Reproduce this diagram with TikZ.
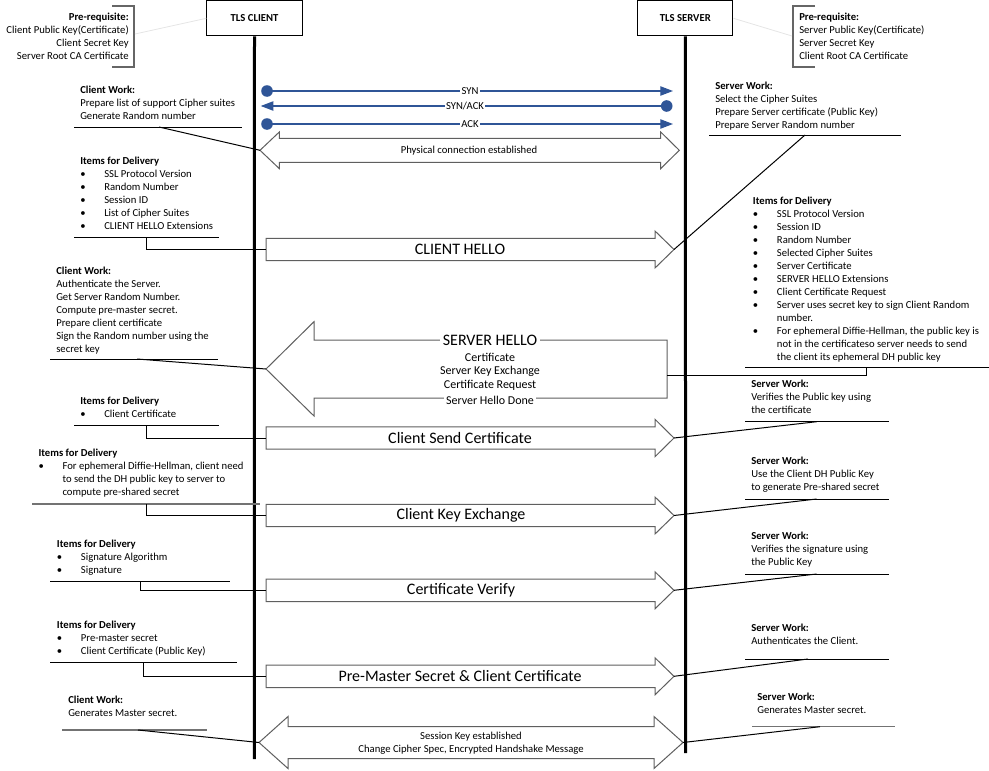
\documentclass[tikz,border=0pt]{standalone}
\usepackage{fontspec}
\setmainfont{Carlito}
\usetikzlibrary{arrows.meta}
\definecolor{synblue}{RGB}{47,85,151}
\definecolor{arrgray}{RGB}{95,95,95}
\newcommand\bul{\makebox[18pt][l]{\textbullet}}
\newcommand\ind{\hspace*{18pt}}
% right-pointing block arrow: #1 name, #2 left x, #3 head base x, #4 tip x, #5 centre y, #6 body half, #7 head half
\newcommand\rightblock[7]{%
  \draw[block] (#2,#5-#6) -- (#3,#5-#6) -- (#3,#5-#7) -- (#4,#5) -- (#3,#5+#7) -- (#3,#5+#6) -- (#2,#5+#6) -- cycle;
  \coordinate (#1-tip) at (#4,#5);
  \coordinate (#1-in) at (#2,#5);}
\begin{document}
\begin{tikzpicture}[x=0.75pt,y=-0.75pt,
  note/.style={anchor=north west, align=left, inner sep=0pt, font=\fontsize{8}{9.75}\selectfont, execute at begin node={\rule{0pt}{7pt}}},
  noteR/.style={anchor=north east, align=right, inner sep=0pt, font=\fontsize{8}{9.75}\selectfont, execute at begin node={\rule{0pt}{7pt}}},
  small/.style={inner sep=1pt, font=\fontsize{8}{9.75}\selectfont},
  mid/.style={inner sep=1.5pt, font=\fontsize{9}{10.5}\selectfont},
  biglabel/.style={inner sep=2pt, font=\fontsize{12}{14}\selectfont},
  actor/.style={draw=black, line width=0.75pt, minimum width=71.5pt, minimum height=26.25pt, inner sep=0pt, font=\bfseries\fontsize{8}{9.75}\selectfont},
  lifeline/.style={line width=2.25pt},
  block/.style={draw=arrgray, fill=white, line width=0.75pt, line join=miter},
  uline/.style={draw=black, line width=0.75pt},
  gline/.style={draw=black!55, line width=1.1pt},
  conn/.style={draw=black, line width=0.75pt},
  faint/.style={draw=black!10, line width=0.6pt},
  brack/.style={draw=black!60, line width=1.1pt},
  syn/.style={draw=synblue, line width=0.9pt, -{Triangle[length=9.5pt,width=7pt]}, color=synblue},
]
\useasboundingbox (0,0) rectangle (989,771);

% actors and lifelines
\node[actor] (client) at (254.5,18.3) {TLS CLIENT};
\node[actor] (server) at (685.3,18.3) {TLS SERVER};
\coordinate (clientEnd) at (254.3,759);
\coordinate (serverEnd) at (685.7,753);
\draw[lifeline] (client.south) -- (clientEnd);
\draw[lifeline] (server.south) -- (serverEnd);

% pre-requisites
\node[noteR] (preL) at (129,12.9) {\textbf{Pre-requisite:}\\Client Public Key(Certificate)\\Client Secret Key\\Server Root CA Certificate};
\coordinate (bl1) at (112,6); \coordinate (bl2) at (134,6);
\coordinate (bl3) at (134,67); \coordinate (bl4) at (112,67);
\draw[brack] (bl1) -- (bl2) -- (bl3) -- (bl4);
\coordinate (blc) at (135,34);
\draw[faint] (blc) -- (client.west);

\node[note] (preR) at (799,13.2) {\textbf{Pre-requisite:}\\Server Public Key(Certificate)\\Server Secret Key\\Client Root CA Certificate};
\coordinate (br1) at (815,6); \coordinate (br2) at (793,6);
\coordinate (br3) at (793,67); \coordinate (br4) at (815,67);
\draw[brack] (br1) -- (br2) -- (br3) -- (br4);
\coordinate (brc) at (792,36);
\draw[faint] (server.east) -- (brc);

% TCP handshake
\coordinate (synA) at (267,91);   \coordinate (synB) at (673,91);
\coordinate (saA) at (666.7,106); \coordinate (saB) at (260.7,106);
\coordinate (ackA) at (267,124);  \coordinate (ackB) at (673,124);
\draw[syn] (synA) -- (synB);
\draw[syn] (saA) -- (saB);
\draw[syn] (ackA) -- (ackB);
\fill[synblue] (synA) circle (5.8);
\fill[synblue] (saA) circle (5.8);
\fill[synblue] (ackA) circle (5.8);
\node[small, fill=white] (synL) at (470,91) {SYN};
\node[small, fill=white] (saL) at (465,106) {SYN/ACK};
\node[small, fill=white] (ackL) at (470,124) {ACK};

% physical connection double arrow
\draw[block] (260,150.3) -- (279.3,132) -- (279.3,138.3) -- (660.7,138.3) -- (660.7,132) -- (679.3,150.3)
  -- (660.7,168.6) -- (660.7,162.3) -- (279.3,162.3) -- (279.3,168.6) -- cycle;
\coordinate (phys-L) at (260,150.3);
\node[small] (physL) at (469,151) {Physical connection established};

% message arrows
\rightblock{ch}{266}{655}{674}{249.5}{11.2}{18.5}
\node[biglabel] (chL) at (460,249.5) {CLIENT HELLO};

\draw[block] (266,369) -- (314,321.7) -- (314,340) -- (667,340) -- (667,398) -- (314,398) -- (314,416) -- cycle;
\coordinate (sh-tip) at (266,369);
\coordinate (sh-in) at (667,375.5);
\node[biglabel, fill=white] (shL) at (490,340) {SERVER HELLO};
\node[mid] (sh1) at (490,357) {Certificate};
\node[mid] (sh2) at (490,371) {Server Key Exchange};
\node[mid] (sh3) at (490,385) {Certificate Request};
\node[mid, fill=white] (sh4) at (490,400) {Server Hello Done};

\rightblock{csc}{266}{655}{674}{438}{11.2}{18.7}
\node[biglabel] (cscL) at (460,438) {Client Send Certificate};
\rightblock{cke}{266}{655}{674}{515.5}{11.2}{18.5}
\node[biglabel] (ckeL) at (461,515.5) {Client Key Exchange};
\rightblock{cv}{266}{655}{674}{590.3}{11.2}{18.5}
\node[biglabel] (cvL) at (461,590.3) {Certificate Verify};
\rightblock{pm}{266}{655}{674}{676.3}{11.2}{18.5}
\node[biglabel] (pmL) at (460,676.3) {Pre-Master Secret \& Client Certificate};

% session key double arrow
\draw[block] (259,742.5) -- (288,716.5) -- (288,726.7) -- (654,726.7) -- (654,716.5) -- (683,742.5)
  -- (654,768.5) -- (654,758.5) -- (288,758.5) -- (288,768.5) -- cycle;
\coordinate (ses-L) at (259,742.5);
\coordinate (ses-R) at (683,742.5);
\node[small] (ses1) at (471,736.7) {Session Key established};
\node[small] (ses2) at (471,750) {Change Cipher Spec, Encrypted Handshake Message};

% ---- left notes ----
\node[note] (cw1) at (80,85.9) {\textbf{Client Work:}\\Prepare list of support Cipher suites\\Generate Random number};
\coordinate (cw1a) at (74,127); \coordinate (cw1b) at (242,127); \coordinate (cw1c) at (159,127);
\draw[uline] (cw1a) -- (cw1b);
\draw[conn] (cw1c) -- (phys-L);

\node[note] (it1) at (80,156.9) {\textbf{Items for Delivery}\\\bul SSL Protocol Version\\\bul Random Number\\\bul Session ID\\\bul List of Cipher Suites\\\bul CLIENT HELLO Extensions};
\coordinate (it1a) at (74,237); \coordinate (it1b) at (219,237); \coordinate (it1c) at (146.7,237);
\draw[uline] (it1a) -- (it1b);
\draw[conn] (it1c) |- (ch-in);

\node[note] (cw2) at (56,266.9) {\textbf{Client Work:}\\Authenticate the Server.\\Get Server Random Number.\\Compute pre-master secret.\\Prepare client certificate\\Sign the Random number using the\\secret key};
\coordinate (cw2a) at (50,359); \coordinate (cw2b) at (218,359); \coordinate (cw2c) at (137,359);
\draw[uline] (cw2a) -- (cw2b);
\draw[conn] (cw2c) -- (sh-tip);

\node[note] (it3) at (80,396.9) {\textbf{Items for Delivery}\\\bul Client Certificate};
\coordinate (it3a) at (74,425.7); \coordinate (it3b) at (219,425.7); \coordinate (it3c) at (146.7,425.7);
\draw[uline] (it3a) -- (it3b);
\draw[conn] (it3c) |- (csc-in);

\node[note] (it4) at (38.3,448.9) {\textbf{Items for Delivery}\\\bul For ephemeral Diffie-Hellman, client need\\\ind to send the DH public key to server to\\\ind compute pre-shared secret};
\coordinate (it4a) at (32,504); \coordinate (it4b) at (260,504); \coordinate (it4c) at (146.7,504);
\draw[gline] (it4a) -- (it4b);
\draw[conn] (it4c) |- (cke-in);

\node[note] (it5) at (56.7,539.9) {\textbf{Items for Delivery}\\\bul Signature Algorithm\\\bul Signature};
\coordinate (it5a) at (50,581.7); \coordinate (it5b) at (230,581.7); \coordinate (it5c) at (140.7,581.7);
\draw[uline] (it5a) -- (it5b);
\draw[conn] (it5c) |- (cv-in);

\node[note] (it6) at (56.7,620.9) {\textbf{Items for Delivery}\\\bul Pre-master secret\\\bul Client Certificate (Public Key)};
\coordinate (it6a) at (50,662); \coordinate (it6b) at (236.7,662); \coordinate (it6c) at (143.3,662);
\draw[uline] (it6a) -- (it6b);
\draw[conn] (it6c) |- (pm-in);

\node[note] (cw3) at (68,695.9) {\textbf{Client Work:}\\Generates Master secret.};
\coordinate (cw3a) at (62,730); \coordinate (cw3b) at (207,730); \coordinate (cw3c) at (138,730);
\draw[gline] (cw3a) -- (cw3b);
\draw[conn] (cw3c) -- (ses-L);

% ---- right notes ----
\node[note] (sw1) at (715,81.9) {\textbf{Server Work:}\\Select the Cipher Suites\\Prepare Server certificate (Public Key)\\Prepare Server Random number};
\coordinate (sw1a) at (709,135); \coordinate (sw1b) at (901,135); \coordinate (sw1c) at (805,135);
\draw[uline] (sw1a) -- (sw1b);
\draw[conn] (sw1c) -- (ch-tip);

\node[note] (it2) at (752.7,196.6) {\textbf{Items for Delivery}\\\bul SSL Protocol Version\\\bul Session ID\\\bul Random Number\\\bul Selected Cipher Suites\\\bul Server Certificate\\\bul SERVER HELLO Extensions\\\bul Client Certificate Request\\\bul Server uses secret key to sign Client Random\\\ind number.\\\bul For ephemeral Diffie-Hellman, the public key is\\\ind not in the certificateso server needs to send\\\ind the client its ephemeral DH public key};
\coordinate (it2a) at (745,367.3); \coordinate (it2b) at (989,367.3); \coordinate (it2c) at (866,367.3);
\draw[uline] (it2a) -- (it2b);
\draw[conn] (it2c) |- (sh-in);

\node[note] (sw2) at (751,379.9) {\textbf{Server Work:}\\Verifies the Public key using\\the certificate};
\coordinate (sw2a) at (745,421.7); \coordinate (sw2b) at (889,421.7); \coordinate (sw2c) at (816.7,421.7);
\draw[uline] (sw2a) -- (sw2b);
\draw[conn] (sw2c) -- (csc-tip);

\node[note] (sw3) at (751,456.9) {\textbf{Server Work:}\\Use the Client DH Public Key\\to generate Pre-shared secret};
\coordinate (sw3a) at (745,499); \coordinate (sw3b) at (889,499); \coordinate (sw3c) at (816.7,499);
\draw[uline] (sw3a) -- (sw3b);
\draw[conn] (sw3c) -- (cke-tip);

\node[note] (sw4) at (751,531.9) {\textbf{Server Work:}\\Verifies the signature using\\the Public Key};
\coordinate (sw4a) at (745,574); \coordinate (sw4b) at (889,574); \coordinate (sw4c) at (816.7,574);
\draw[uline] (sw4a) -- (sw4b);
\draw[conn] (sw4c) -- (cv-tip);

\node[note] (sw5) at (751,623.9) {\textbf{Server Work:}\\Authenticates the Client.};
\coordinate (sw5a) at (745,659); \coordinate (sw5b) at (889,659); \coordinate (sw5c) at (808,659);
\draw[uline] (sw5a) -- (sw5b);
\draw[conn] (sw5c) -- (pm-tip);

\node[note] (sw6) at (757,692.6) {\textbf{Server Work:}\\Generates Master secret.};
\coordinate (sw6a) at (752,726.7); \coordinate (sw6b) at (895,726.7); \coordinate (sw6c) at (820,726.7);
\draw[gline] (sw6a) -- (sw6b);
\draw[conn] (sw6c) -- (ses-R);
\end{tikzpicture}
\end{document}
